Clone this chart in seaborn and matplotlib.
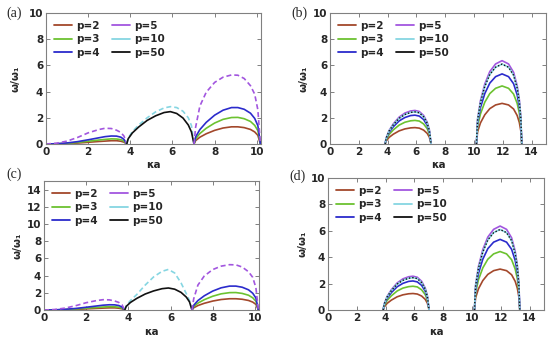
import seaborn as sns
import matplotlib.pyplot as plt
from matplotlib.lines import Line2D

# values (omega/omega_1 vs kappa*a)

labels = ["p=2", "p=3", "p=4", "p=5", "p=10", "p=50"]
colors = {"p=2": "#a3482b", "p=3": "#6cc230", "p=4": "#2b2bcc",
          "p=5": "#a256df", "p=10": "#86d6e2", "p=50": "#111111"}

# panels (a) and (c): three arches between 0, 3.83, 7.02, 10.17
ka_arch1 = [0, 0.5, 1.0, 1.5, 2.0, 2.5, 2.8, 3.1, 3.35, 3.55, 3.7, 3.83]
ac_arch1 = {
    "p=2": [0, 0.01, 0.03, 0.07, 0.13, 0.19, 0.22, 0.25, 0.25, 0.21, 0.14, 0],
    "p=3": [0, 0.01, 0.05, 0.12, 0.21, 0.30, 0.35, 0.39, 0.38, 0.33, 0.22, 0],
    "p=4": [0, 0.02, 0.08, 0.18, 0.32, 0.47, 0.56, 0.61, 0.60, 0.52, 0.35, 0],
    "p=5": [0, 0.06, 0.22, 0.50, 0.85, 1.10, 1.20, 1.18, 1.05, 0.88, 0.60, 0],
}

ka_arch2 = [3.83, 3.9, 4.1, 4.4, 4.8, 5.2, 5.6, 5.9, 6.2, 6.5, 6.75, 6.9, 7.02]
a_arch2 = {
    "p=50": [0, 0.40, 0.85, 1.30, 1.80, 2.15, 2.40, 2.47, 2.33, 1.98, 1.45, 0.92, 0],
    "p=10": [0, 0.45, 0.95, 1.45, 2.00, 2.45, 2.75, 2.85, 2.78, 2.50, 2.00, 1.40, 0],
}
c_arch2 = {
    "p=50": [0, 0.42, 0.88, 1.35, 1.86, 2.22, 2.48, 2.56, 2.42, 2.05, 1.50, 0.95, 0],
    "p=10": [0, 0.50, 1.10, 1.80, 2.90, 3.85, 4.50, 4.72, 4.30, 3.15, 1.90, 1.10, 0],
}

ka_arch3 = [7.02, 7.1, 7.3, 7.6, 8.0, 8.4, 8.8, 9.1, 9.4, 9.7, 9.9, 10.05, 10.17]
ac_arch3 = {
    "p=2": [0, 0.26, 0.52, 0.78, 1.04, 1.22, 1.31, 1.31, 1.25, 1.11, 0.92, 0.66, 0],
    "p=3": [0, 0.40, 0.80, 1.20, 1.60, 1.88, 2.02, 2.03, 1.93, 1.72, 1.42, 1.02, 0],
    "p=4": [0, 0.55, 1.10, 1.65, 2.20, 2.58, 2.78, 2.78, 2.65, 2.35, 1.95, 1.40, 0],
    "p=5": [0, 1.30, 2.90, 3.95, 4.70, 5.10, 5.27, 5.25, 5.00, 4.45, 3.80, 2.60, 0],
}

# panels (b) and (d): two arches, 3.83-7.02 and 10.17-13.32
kb_arch1 = [3.83, 3.9, 4.1, 4.4, 4.8, 5.2, 5.6, 5.9, 6.2, 6.5, 6.75, 6.9, 7.02]
bd_arch1 = {
    "p=2": [0, 0.22, 0.50, 0.75, 1.00, 1.15, 1.23, 1.25, 1.21, 1.06, 0.81, 0.52, 0],
    "p=3": [0, 0.32, 0.72, 1.08, 1.44, 1.66, 1.77, 1.80, 1.75, 1.53, 1.17, 0.76, 0],
    "p=4": [0, 0.40, 0.88, 1.32, 1.76, 2.02, 2.17, 2.20, 2.13, 1.87, 1.43, 0.92, 0],
    "p=5": [0, 0.46, 1.02, 1.54, 2.05, 2.36, 2.52, 2.56, 2.48, 2.18, 1.66, 1.08, 0],
    "p=10": [0, 0.44, 0.98, 1.47, 1.96, 2.25, 2.41, 2.45, 2.38, 2.08, 1.59, 1.03, 0],
    "p=50": [0, 0.44, 0.98, 1.47, 1.96, 2.25, 2.41, 2.45, 2.38, 2.08, 1.59, 1.03, 0],
}

kb_arch2 = [10.17, 10.25, 10.45, 10.75, 11.1, 11.5, 11.95, 12.4, 12.75, 13.0, 13.15, 13.25, 13.32]
bd_arch2 = {
    "p=2": [0, 0.93, 1.61, 2.23, 2.70, 2.98, 3.10, 2.98, 2.67, 2.17, 1.64, 1.02, 0],
    "p=3": [0, 1.33, 2.30, 3.19, 3.85, 4.25, 4.43, 4.25, 3.81, 3.10, 2.35, 1.46, 0],
    "p=4": [0, 1.60, 2.78, 3.85, 4.65, 5.14, 5.35, 5.14, 4.60, 3.75, 2.84, 1.77, 0],
    "p=5": [0, 1.91, 3.31, 4.58, 5.53, 6.11, 6.36, 6.11, 5.47, 4.45, 3.37, 2.10, 0],
    "p=10": [0, 1.83, 3.17, 4.39, 5.31, 5.86, 6.10, 5.86, 5.25, 4.27, 3.23, 2.01, 0],
    "p=50": [0, 1.83, 3.17, 4.39, 5.31, 5.86, 6.10, 5.86, 5.25, 4.27, 3.23, 2.01, 0],
}

sns.set_theme(style="white")
plt.rcParams['font.family'] = ['DejaVu Sans']
plt.rcParams['font.weight'] = 'bold'

fig = plt.figure(figsize=(5.5, 3.38), dpi=100)

frame = "#808080"
dash = (0, (3, 1.8))
dot = (0, (1, 1.4))


def draw(ax, x, curves, styles):
    for lab in labels:
        if lab not in curves:
            continue
        ls = styles.get(lab, "-")
        lw = 1.0 if ls == dot else 1.2
        sns.lineplot(x=x, y=curves[lab], ax=ax, color=colors[lab], linestyle=ls,
                     linewidth=lw, sort=False, estimator=None, legend=False)


def style_axes(ax, xmax, ymax, yticks, ylab_x, xlab_y):
    ax.set_xlim(0, xmax)
    ax.set_ylim(0, ymax)
    ax.set_xticks(range(0, int(xmax) + 1, 2))
    ax.set_yticks(yticks)
    for s in ax.spines.values():
        s.set_color(frame)
        s.set_linewidth(0.8)
    ax.tick_params(direction="in", length=3, width=0.7, color=frame,
                   labelsize=7.5, pad=2, top=True, right=True,
                   bottom=True, left=True, labeltop=False, labelright=False)
    for t in ax.get_xticklabels() + ax.get_yticklabels():
        t.set_fontweight("bold")
    ax.set_xlabel("κa", fontsize=7.5, fontweight="bold")
    ax.set_ylabel("ω/ω₁", fontsize=7.5, fontweight="bold")
    ax.yaxis.set_label_coords(ylab_x, 0.5)
    ax.xaxis.set_label_coords(0.5, xlab_y)
    handles = [Line2D([], [], color=colors[l], lw=1.3) for l in labels]
    ax.legend(handles, labels, ncol=2, loc="upper left", frameon=False,
              fontsize=7.5, handlelength=1.7, handletextpad=0.4,
              columnspacing=1.2, labelspacing=0.35, borderaxespad=0.35,
              prop={"weight": "bold", "size": 7.5})


ax_a = fig.add_axes([0.0836, 0.574, 0.391, 0.3876])
ax_b = fig.add_axes([0.600, 0.574, 0.3927, 0.3876])
ax_c = fig.add_axes([0.080, 0.0828, 0.391, 0.3817])
ax_d = fig.add_axes([0.5964, 0.0828, 0.3927, 0.3906])

ac_styles = {"p=5": dash, "p=10": dash}
bd_styles = {"p=50": dot}

# (a)
draw(ax_a, ka_arch1, ac_arch1, ac_styles)
draw(ax_a, ka_arch2, a_arch2, ac_styles)
draw(ax_a, ka_arch3, ac_arch3, ac_styles)
style_axes(ax_a, 10.2, 10, range(0, 11, 2), -0.12, -0.125)

# (b)
draw(ax_b, kb_arch1, bd_arch1, bd_styles)
draw(ax_b, kb_arch2, bd_arch2, bd_styles)
style_axes(ax_b, 15, 10, range(0, 11, 2), -0.10, -0.125)

# (c)
draw(ax_c, ka_arch1, ac_arch1, ac_styles)
draw(ax_c, ka_arch2, c_arch2, ac_styles)
draw(ax_c, ka_arch3, ac_arch3, ac_styles)
style_axes(ax_c, 10.2, 15, range(0, 15, 2), -0.10, -0.135)

# (d)
draw(ax_d, kb_arch1, bd_arch1, bd_styles)
draw(ax_d, kb_arch2, bd_arch2, bd_styles)
style_axes(ax_d, 15, 10, range(0, 11, 2), -0.094, -0.13)

serif = ["Liberation Serif", "DejaVu Serif"]
fig.text(0.012, 0.962, "(a)", family=serif, fontsize=10, fontweight="normal", va="center")
fig.text(0.530, 0.962, "(b)", family=serif, fontsize=10, fontweight="normal", va="center")
fig.text(0.012, 0.485, "(c)", family=serif, fontsize=10, fontweight="normal", va="center")
fig.text(0.527, 0.479, "(d)", family=serif, fontsize=10, fontweight="normal", va="center")

fig.savefig("out.png", dpi=100)
